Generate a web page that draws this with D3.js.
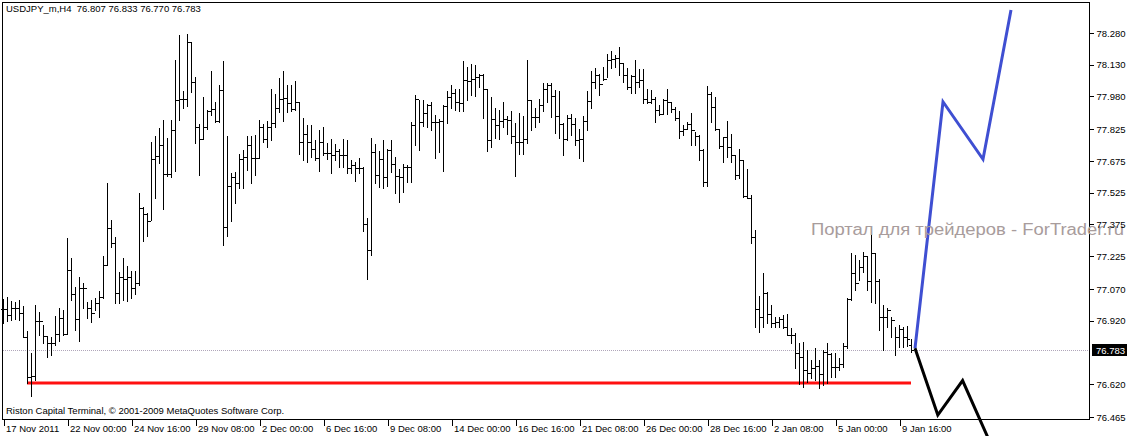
<!DOCTYPE html>
<html><head><meta charset="utf-8">
<script src="https://cdn.jsdelivr.net/npm/d3@7"></script>
<style>
body{margin:0;background:#fff;}
svg{display:block;}
text{font-family:"Liberation Sans",Arial,sans-serif;}
</style>
</head><body>
<svg id="chart" width="1127" height="436"></svg>
<script>
// ---- data (USDJPY_m, H4 bars) ----
const opens = [76.976,76.976,76.947,76.979,76.979,76.955,76.845,76.653,76.659,76.917,
76.920,76.848,76.816,76.816,76.857,76.931,76.856,77.160,77.046,76.927,
77.076,77.076,76.979,76.958,77.005,77.034,77.182,77.357,77.286,77.050,
77.128,77.116,77.128,77.076,77.097,77.451,77.423,77.393,77.683,77.699,
77.751,77.612,77.612,77.822,77.963,77.968,77.968,78.237,78.050,77.834,
77.777,77.834,77.911,77.919,77.864,78.010,77.365,77.557,77.601,77.569,
77.683,77.692,77.750,77.691,77.687,77.837,77.777,77.834,77.856,77.924,
77.966,77.971,77.947,77.919,77.952,77.765,77.801,77.763,77.732,77.687,
77.763,77.711,77.711,77.703,77.724,77.703,77.703,77.640,77.656,77.640,
77.643,77.377,77.254,77.719,77.608,77.685,77.601,77.727,77.660,77.604,
77.601,77.645,77.649,77.844,77.967,77.860,77.904,77.940,77.860,77.857,
77.866,77.935,77.979,77.998,77.956,77.948,78.058,78.055,78.061,78.071,
78.080,78.014,77.775,77.875,77.846,77.864,77.872,77.869,77.794,77.765,
77.767,77.778,77.964,77.885,77.882,77.940,78.014,78.035,77.982,77.888,
77.850,77.778,77.877,77.850,77.774,77.781,77.864,77.957,78.047,78.082,
78.039,78.064,78.152,78.156,78.160,78.137,78.083,78.026,78.077,78.047,
78.058,77.967,77.956,77.967,77.916,77.897,77.963,77.956,77.921,77.880,
77.818,77.825,77.850,77.822,77.793,77.727,77.577,77.992,77.930,77.825,
77.746,77.787,77.742,77.703,77.609,77.680,77.511,77.499,77.317,76.975,
76.939,77.053,76.952,76.911,76.915,76.927,76.889,76.853,76.853,76.769,
76.747,76.687,76.671,76.695,76.708,76.668,76.774,76.761,76.703,76.700,
76.715,76.800,77.021,77.147,77.100,77.175,77.226,77.109,77.242,77.109,
76.936,76.936,76.971,76.923,76.841,76.879,76.845,76.807];

const highs = [77.023,77.034,77.013,77.010,77.018,76.991,76.872,76.769,76.994,76.961,
76.898,76.848,76.842,76.944,76.980,76.971,77.311,77.218,77.081,77.128,
77.100,77.010,77.018,77.026,77.061,77.226,77.569,77.396,77.314,77.152,
77.218,77.179,77.157,77.155,77.525,77.456,77.428,77.765,77.793,77.831,
77.869,77.784,77.869,78.152,78.271,78.006,78.275,78.237,78.070,77.850,
77.979,77.916,78.100,77.955,78.034,78.147,77.793,77.617,77.624,77.708,
77.727,77.793,77.793,77.798,77.869,77.850,77.866,78.014,77.992,78.066,
78.100,78.034,78.034,78.053,77.955,77.877,77.845,77.845,77.774,77.821,
77.834,77.761,77.779,77.754,77.732,77.779,77.774,77.680,77.672,77.687,
77.648,77.406,77.786,77.754,77.723,77.775,77.732,77.775,77.693,77.638,
77.660,77.656,77.861,77.987,77.964,77.964,77.945,77.956,77.893,77.872,
77.938,78.006,78.035,78.014,78.014,78.148,78.118,78.132,78.128,78.085,
78.085,78.014,77.979,77.924,77.916,77.956,77.888,77.912,77.853,77.901,
77.888,78.153,77.964,77.927,77.970,78.042,78.042,78.042,78.011,78.006,
77.853,77.893,77.897,77.877,77.825,77.888,78.006,78.100,78.116,78.085,
78.121,78.181,78.195,78.176,78.216,78.137,78.113,78.082,78.152,78.108,
78.108,78.014,78.011,77.979,77.940,77.967,78.014,77.956,77.932,77.913,
77.845,77.861,77.904,77.814,77.800,77.732,78.030,78.000,77.976,77.825,
77.787,77.865,77.803,77.703,77.730,77.680,77.636,77.514,77.349,77.037,
77.147,77.057,76.994,76.939,76.939,76.947,76.952,76.884,76.860,76.816,
76.821,76.782,76.734,76.789,76.734,76.782,76.816,76.766,76.766,76.742,
76.813,77.026,77.238,77.231,77.207,77.246,77.226,77.330,77.238,77.115,
76.994,76.979,76.939,76.892,76.900,76.892,76.895,76.833];

const lows = [76.908,76.920,76.924,76.927,76.924,76.842,76.624,76.564,76.640,76.853,
76.816,76.750,76.760,76.807,76.826,76.853,76.856,77.018,76.876,76.826,
76.979,76.935,76.916,76.971,76.939,77.026,77.183,77.270,77.002,77.002,
77.018,77.015,77.026,77.046,77.089,77.298,77.321,77.396,77.502,77.664,
77.450,77.604,77.601,77.629,77.869,77.924,77.935,78.003,77.761,77.610,
77.777,77.825,77.892,77.861,77.861,77.278,77.322,77.393,77.475,77.546,
77.546,77.632,77.569,77.609,77.687,77.763,77.743,77.774,77.837,77.908,
77.866,77.908,77.913,77.916,77.708,77.680,77.672,77.695,77.680,77.629,
77.703,77.683,77.620,77.680,77.648,77.645,77.620,77.620,77.582,77.617,
77.346,77.117,77.231,77.570,77.554,77.549,77.559,77.625,77.526,77.483,
77.530,77.578,77.578,77.751,77.727,77.841,77.838,77.822,77.688,77.719,
77.630,77.853,77.924,77.916,77.912,77.912,77.964,77.987,77.983,78.027,
77.877,77.724,77.743,77.782,77.779,77.838,77.803,77.759,77.606,77.708,
77.708,77.760,77.822,77.838,77.858,77.909,77.956,77.885,77.809,77.782,
77.703,77.774,77.798,77.751,77.688,77.677,77.822,77.927,78.019,77.987,
78.058,78.071,78.113,78.121,78.082,78.050,78.014,77.995,77.995,78.026,
77.948,77.951,77.951,77.861,77.893,77.897,77.897,77.908,77.869,77.785,
77.798,77.825,77.751,77.751,77.680,77.555,77.555,77.861,77.822,77.735,
77.669,77.695,77.672,77.590,77.593,77.503,77.499,77.286,76.890,76.868,
76.892,76.908,76.892,76.892,76.892,76.884,76.853,76.816,76.695,76.619,
76.608,76.632,76.648,76.640,76.600,76.616,76.627,76.656,76.656,76.687,
76.703,76.789,77.018,77.065,77.112,77.152,77.065,77.010,77.002,76.876,
76.782,76.892,76.845,76.758,76.797,76.797,76.800,76.770];

const closes = [76.976,76.947,76.979,76.979,76.955,76.845,76.653,76.659,76.917,76.920,
76.848,76.816,76.816,76.857,76.931,76.856,77.160,77.046,76.927,77.076,
77.076,76.979,76.958,77.005,77.034,77.182,77.357,77.286,77.050,77.128,
77.116,77.128,77.076,77.097,77.451,77.423,77.393,77.683,77.699,77.751,
77.612,77.612,77.822,77.963,77.968,77.968,78.237,78.050,77.834,77.777,
77.834,77.911,77.919,77.864,78.010,77.365,77.557,77.601,77.569,77.683,
77.692,77.750,77.691,77.687,77.837,77.777,77.834,77.856,77.924,77.966,
77.971,77.947,77.919,77.952,77.765,77.801,77.763,77.732,77.687,77.763,
77.711,77.711,77.703,77.724,77.703,77.703,77.640,77.656,77.640,77.643,
77.377,77.254,77.719,77.608,77.685,77.601,77.727,77.660,77.604,77.601,
77.645,77.649,77.844,77.967,77.860,77.904,77.940,77.860,77.857,77.866,
77.935,77.979,77.998,77.956,77.948,78.058,78.055,78.061,78.071,78.080,
78.014,77.775,77.875,77.846,77.864,77.872,77.869,77.794,77.765,77.767,
77.778,77.964,77.885,77.882,77.940,78.014,78.035,77.982,77.888,77.850,
77.778,77.877,77.850,77.774,77.781,77.864,77.957,78.047,78.082,78.039,
78.064,78.152,78.156,78.160,78.137,78.083,78.026,78.077,78.047,78.058,
77.967,77.956,77.967,77.916,77.897,77.963,77.956,77.921,77.880,77.818,
77.825,77.850,77.822,77.793,77.727,77.577,77.992,77.930,77.825,77.746,
77.787,77.742,77.703,77.609,77.680,77.511,77.499,77.317,76.975,76.939,
77.053,76.952,76.911,76.915,76.927,76.889,76.853,76.853,76.769,76.747,
76.687,76.671,76.695,76.708,76.668,76.774,76.761,76.703,76.700,76.715,
76.800,77.021,77.147,77.100,77.175,77.226,77.109,77.242,77.109,76.936,
76.936,76.971,76.923,76.841,76.879,76.845,76.832,76.783];

const dateLabels = ["17 Nov 2011","22 Nov 00:00","24 Nov 16:00","29 Nov 08:00","2 Dec 00:00",
  "6 Dec 16:00","9 Dec 08:00","14 Dec 00:00","16 Dec 16:00","21 Dec 08:00","26 Dec 00:00",
  "28 Dec 16:00","2 Jan 08:00","5 Jan 00:00","9 Jan 16:00"];
const dateLabelBars = [0,16,32,48,64,80,96,112,128,144,160,176,192,208,224];
const priceTicks = [78.280,78.130,77.980,77.825,77.675,77.525,77.375,77.225,77.070,76.920,76.620,76.465];

const symbolTitle = "USDJPY_m,H4  76.807 76.833 76.770 76.783";
const lastPrice = 76.783;
const supportPrice = 76.626, supportFromBar = 6, supportToBar = 227;
const bullPathBars = [228, 235, 245, 252];
const bullPathPrices = [76.790, 77.955, 77.683, 78.389];
const bearPathBars = [228, 233.7, 239.9, 246.5];
const bearPathPrices = [76.790, 76.474, 76.637, 76.356];
const watermark = "Портал для трейдеров - ForTrader.ru";
const copyright = "Riston Capital Terminal, © 2001-2009 MetaQuotes Software Corp.";

// ---- layout ----
const plot = {left: 2, top: 2, right: 1089, bottom: 419};
const svg = d3.select("#chart");

const x = d3.scaleLinear().domain([0, 1]).range([3, 7]);        // 4 px per bar
const y = d3.scaleLinear().domain([76.465, 78.280]).range([417, 33]);

const bars = opens.map((o, i) => ({i, o, h: highs[i], l: lows[i], c: closes[i]}));

// frame
svg.append("rect").attr("x", plot.left + 0.5).attr("y", plot.top + 0.5)
  .attr("width", plot.right - plot.left).attr("height", plot.bottom - plot.top)
  .attr("fill", "#fff").attr("stroke", "#000").attr("stroke-width", 1);

// current price line
svg.append("line").attr("x1", plot.left + 1).attr("x2", plot.right)
  .attr("y1", Math.round(y(lastPrice)) + 0.5).attr("y2", Math.round(y(lastPrice)) + 0.5)
  .attr("stroke", "#b0a6ba").attr("stroke-width", 1).attr("stroke-dasharray", "1,1");

// support line
svg.append("line")
  .attr("x1", x(supportFromBar)).attr("x2", x(supportToBar))
  .attr("y1", y(supportPrice)).attr("y2", y(supportPrice))
  .attr("stroke", "#ff1010").attr("stroke-width", 3);

// OHLC bars
const g = svg.append("g").attr("shape-rendering", "crispEdges").attr("fill", "#000");
g.selectAll("rect.v").data(bars).join("rect").attr("class", "v")
  .attr("x", d => x(d.i)).attr("width", 1)
  .attr("y", d => Math.round(y(d.h)))
  .attr("height", d => Math.max(1, Math.round(y(d.l)) - Math.round(y(d.h)) + 1));
g.selectAll("rect.o").data(bars).join("rect").attr("class", "o")
  .attr("x", d => x(d.i) - 2).attr("width", 2)
  .attr("y", d => Math.round(y(d.o))).attr("height", 1);
g.selectAll("rect.c").data(bars).join("rect").attr("class", "c")
  .attr("x", d => x(d.i) + 1).attr("width", 2)
  .attr("y", d => Math.round(y(d.c))).attr("height", 1);

// forecast paths
const line = d3.line().x(d => x(d[0])).y(d => y(d[1]));
svg.append("path").datum(bullPathBars.map((b, k) => [b, bullPathPrices[k]]))
  .attr("d", line).attr("fill", "none").attr("stroke", "#3f4fd2").attr("stroke-width", 3);
svg.append("path").datum(bearPathBars.map((b, k) => [b, bearPathPrices[k]]))
  .attr("d", line).attr("fill", "none").attr("stroke", "#000").attr("stroke-width", 3);

// watermark
svg.append("text").attr("x", 811).attr("y", 235)
  .attr("font-family", "'DejaVu Sans', Verdana, sans-serif").attr("font-size", 16)
  .attr("textLength", 313).attr("lengthAdjust", "spacingAndGlyphs")
  .attr("fill", "#a89c9c").text(watermark);

// right price axis
const yAxis = d3.axisRight(y).tickValues(priceTicks).tickSize(4).tickPadding(3)
  .tickFormat(d3.format(".3f"));
const ya = svg.append("g").attr("transform", `translate(${plot.right + 0.5},0)`).call(yAxis);
ya.select(".domain").remove();
ya.selectAll("line").attr("stroke", "#000").attr("shape-rendering", "crispEdges");
ya.selectAll("text").attr("font-family", "'Liberation Sans', Arial, sans-serif")
  .attr("font-size", 9.5).attr("fill", "#000");

// current price label
const ly = Math.round(y(lastPrice));
svg.append("rect").attr("x", 1092).attr("y", ly - 6).attr("width", 35).attr("height", 12).attr("fill", "#000");
svg.append("text").attr("x", 1096).attr("y", ly + 3.5).attr("font-size", 9.5)
  .attr("fill", "#fff").text(lastPrice.toFixed(3));

// bottom time axis
const xAxis = d3.axisBottom(x).tickValues(dateLabelBars).tickSize(6)
  .tickFormat((d, k) => dateLabels[k]);
const xa = svg.append("g").attr("transform", `translate(0.5,${plot.bottom + 0.5})`).call(xAxis);
xa.select(".domain").remove();
xa.selectAll("line").attr("stroke", "#000").attr("shape-rendering", "crispEdges");
xa.selectAll("text").attr("text-anchor", "start").attr("x", 2).attr("y", 12).attr("dy", 0)
  .attr("font-family", "'Liberation Sans', Arial, sans-serif").attr("font-size", 9.5).attr("fill", "#000");

// title and copyright
svg.append("text").attr("x", 6).attr("y", 12).attr("font-size", 9.5).attr("fill", "#000")
  .style("white-space", "pre").text(symbolTitle);
svg.append("text").attr("x", 6).attr("y", 414).attr("font-size", 9.5).attr("fill", "#000").text(copyright);
</script>
</body></html>
